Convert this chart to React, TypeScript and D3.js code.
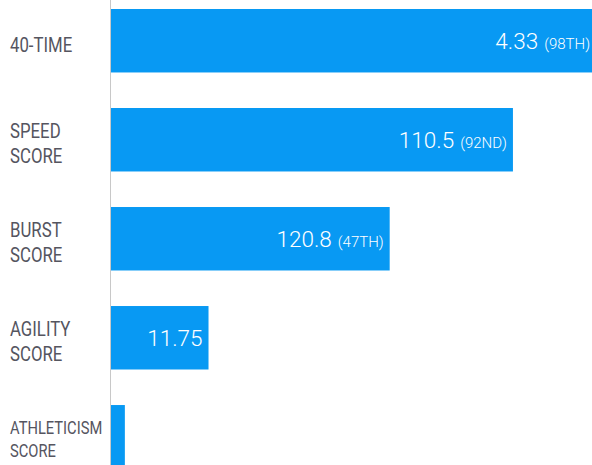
import React from "react";
import * as d3 from "d3";

const categories = ["40-TIME", "SPEED SCORE", "BURST SCORE", "AGILITY SCORE", "ATHLETICISM SCORE"];
const labelLines = [["40-TIME"], ["SPEED", "SCORE"], ["BURST", "SCORE"], ["AGILITY", "SCORE"], ["ATHLETICISM", "SCORE"]];
const barValues = [98, 81.2, 56.3, 19.7, 2.8];
const valueLabels = ["4.33", "110.5", "120.8", "11.75", ""];
const rankLabels = ["(98TH)", "(92ND)", "(47TH)", "", ""];

const W = 592;
const H = 465;

export default function App() {
  const x = d3.scaleLinear().domain([0, 100]).range([111, 606]);
  const y = d3.scaleBand().domain(categories).range([9, 468.5]).paddingInner(0.359).paddingOuter(0);
  const bh = y.bandwidth();
  return (
    <svg width={W} height={H} style={{ position: "fixed", left: 0, top: 0, display: "block" }}>
      <rect x={0} y={0} width={W} height={H} fill="#ffffff" />
      {categories.map((c, i) => {
        const y0 = y(c) as number;
        const cy = y0 + bh / 2;
        const x1 = x(barValues[i]);
        const lines = labelLines[i];
        const small = lines[0].length > 8;
        const fs = small ? 17.5 : 20;
        const lh = small ? 22.4 : 25.3;
        const off = small ? -2.4 : 11 - (lines.length - 1) * 12.65;
        return (
          <g key={c}>
            <rect x={x(0)} y={y0} width={x1 - x(0)} height={bh} fill="#0899f3" />
            {lines.map((l, j) => (
              <text
                key={j}
                transform={`translate(10,${cy + off + j * lh}) scale(0.84,1)`}
                fontFamily="Roboto, 'Noto Sans', sans-serif"
                fontSize={fs}
                fill="#55555f"
              >
                {l}
              </text>
            ))}
            {valueLabels[i] && (
              <text
                x={x1 - 6}
                y={cy + 8}
                textAnchor="end"
                fontFamily="Roboto, 'Noto Sans', sans-serif"
                fill="#ffffff"
                fontWeight={300}
              >
                <tspan fontSize={22.5}>{valueLabels[i]}</tspan>
                {rankLabels[i] && <tspan fontSize={15} dx={6}>{rankLabels[i]}</tspan>}
              </text>
            )}
          </g>
        );
      })}
      <line x1={110.5} x2={110.5} y1={0} y2={H} stroke="#c8c8c8" strokeWidth={1} />
    </svg>
  );
}
